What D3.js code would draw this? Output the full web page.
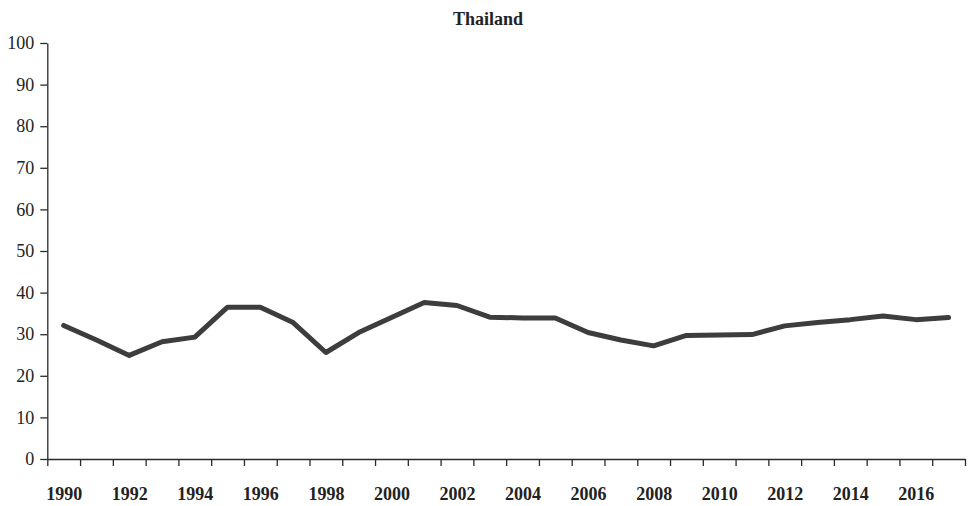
<!DOCTYPE html>
<html>
<head>
<meta charset="utf-8">
<script src="https://cdn.jsdelivr.net/npm/d3@7"></script>
<style>
  html, body { margin: 0; padding: 0; background: #fff; }
  svg { display: block; }
</style>
</head>
<body>
<div id="chart"></div>
<script>
const title = "Thailand";
const years = [1990,1991,1992,1993,1994,1995,1996,1997,1998,1999,2000,2001,2002,2003,2004,2005,2006,2007,2008,2009,2010,2011,2012,2013,2014,2015,2016,2017];
const values = [32.1,28.6,24.9,28.2,29.3,36.5,36.5,32.8,25.6,30.4,34.0,37.6,36.9,34.1,33.9,33.9,30.4,28.6,27.2,29.7,29.8,29.9,32.0,32.8,33.5,34.4,33.5,34.0];
const yTicks = [0,10,20,30,40,50,60,70,80,90,100];
const xLabelYears = [1990,1992,1994,1996,1998,2000,2002,2004,2006,2008,2010,2012,2014,2016];

const W = 969, H = 506;
const plotLeft = 47.3, plotRight = 965, plotTop = 43, plotBottom = 459;

const svg = d3.select("#chart").append("svg").attr("width", W).attr("height", H);

const x = d3.scaleLinear().domain([years[0] - 0.5, years[years.length - 1] + 0.5]).range([plotLeft, plotRight]);
const y = d3.scaleLinear().domain([0, 100]).range([plotBottom, plotTop]);

const font = "'Liberation Serif', 'DejaVu Serif', serif";
const axisColor = "#2a2a2a";

// Title
svg.append("text")
  .attr("x", 488).attr("y", 25)
  .attr("text-anchor", "middle")
  .style("font-family", font).style("font-weight", "bold").style("font-size", "18px")
  .attr("fill", "#222")
  .text(title);

// Y axis
const yAxis = svg.append("g").attr("transform", `translate(${plotLeft},0)`)
  .call(d3.axisLeft(y).tickValues(yTicks).tickSize(7).tickSizeOuter(0).tickPadding(6));
yAxis.select(".domain").attr("stroke", axisColor).attr("stroke-width", 1.3);
yAxis.selectAll(".tick line").attr("stroke", axisColor).attr("stroke-width", 1.3);
yAxis.selectAll(".tick text")
  .attr("x", -13)
  .style("font-family", font).style("font-size", "18px").attr("fill", "#222");

// X axis: tick marks at year boundaries
const boundaries = d3.range(years.length + 1).map(i => years[0] - 0.5 + i);
const xTickAxis = svg.append("g").attr("transform", `translate(0,${plotBottom})`)
  .call(d3.axisBottom(x).tickValues(boundaries).tickSize(7).tickSizeOuter(0).tickFormat(""));
xTickAxis.select(".domain").attr("stroke", axisColor).attr("stroke-width", 1.3);
xTickAxis.selectAll(".tick line").attr("stroke", axisColor).attr("stroke-width", 1.3);

// X axis labels at year centres
const xLabelAxis = svg.append("g").attr("transform", `translate(0,${plotBottom})`)
  .call(d3.axisBottom(x).tickValues(xLabelYears).tickSize(0).tickFormat(d3.format("d")));
xLabelAxis.select(".domain").remove();
xLabelAxis.selectAll(".tick text")
  .attr("y", 41).attr("dy", 0)
  .style("font-family", font).style("font-weight", "bold").style("font-size", "18px").attr("fill", "#222");

// Line
const line = d3.line().x((d, i) => x(years[i])).y(d => y(d));
svg.append("path")
  .datum(values)
  .attr("d", line)
  .attr("fill", "none")
  .attr("stroke", "#3d3d3d")
  .attr("stroke-width", 5)
  .attr("stroke-linejoin", "round")
  .attr("stroke-linecap", "round");
</script>
</body>
</html>
